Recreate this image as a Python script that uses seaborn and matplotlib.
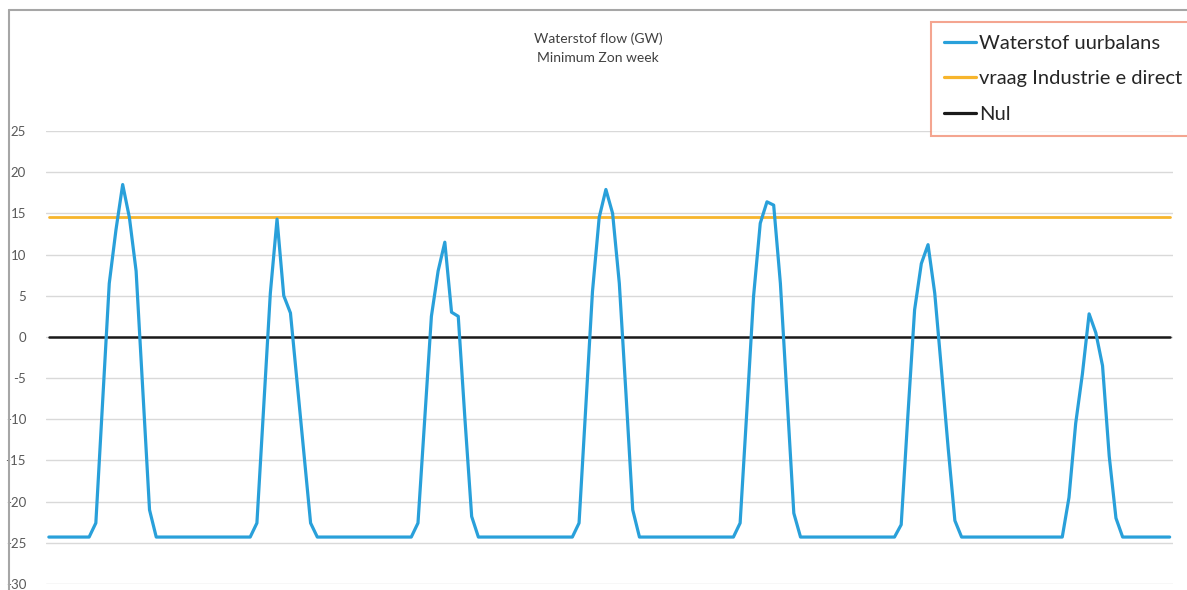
import matplotlib
matplotlib.use("Agg")
import matplotlib.pyplot as plt
import numpy as np
import pandas as pd
import seaborn as sns
from matplotlib.lines import Line2D

# hourly hydrogen balance (GW), one list per day
day1 = [-24.3, -24.3, -24.3, -24.3, -24.3, -24.3, -24.3, -22.6, -8.0, 6.5, 13.0, 18.5,
        14.5, 8.0, -6.5, -21.0, -24.3, -24.3, -24.3, -24.3, -24.3, -24.3, -24.3, -24.3]
day2 = [-24.3, -24.3, -24.3, -24.3, -24.3, -24.3, -24.3, -22.6, -8.6, 5.3, 14.3, 5.0,
        2.9, -5.6, -14.0, -22.6, -24.3, -24.3, -24.3, -24.3, -24.3, -24.3, -24.3, -24.3]
day3 = [-24.3, -24.3, -24.3, -24.3, -24.3, -24.3, -24.3, -22.6, -10.0, 2.5, 8.0, 11.5,
        3.0, 2.5, -10.0, -21.8, -24.3, -24.3, -24.3, -24.3, -24.3, -24.3, -24.3, -24.3]
day4 = [-24.3, -24.3, -24.3, -24.3, -24.3, -24.3, -24.3, -22.6, -8.5, 5.5, 14.5, 17.9,
        15.0, 6.5, -7.0, -21.0, -24.3, -24.3, -24.3, -24.3, -24.3, -24.3, -24.3, -24.3]
day5 = [-24.3, -24.3, -24.3, -24.3, -24.3, -24.3, -24.3, -22.6, -9.0, 4.9, 13.8, 16.4,
        16.0, 6.5, -7.5, -21.4, -24.3, -24.3, -24.3, -24.3, -24.3, -24.3, -24.3, -24.3]
day6 = [-24.3, -24.3, -24.3, -24.3, -24.3, -24.3, -24.3, -22.8, -9.5, 3.3, 8.9, 11.2,
        5.3, -4.0, -13.5, -22.3, -24.3, -24.3, -24.3, -24.3, -24.3, -24.3, -24.3, -24.3]
day7 = [-24.3, -24.3, -24.3, -24.3, -24.3, -24.3, -24.3, -24.3, -19.5, -10.5, -4.5, 2.8,
        0.5, -3.5, -14.5, -22.0, -24.3, -24.3, -24.3, -24.3, -24.3, -24.3, -24.3, -24.3]

demand_industry = 14.6   # vraag Industrie e direct
zero_level = 0.0

labels = ["Waterstof uurbalans", "vraag Industrie e direct", "Nul"]
colors = ["#29a0da", "#f7b52c", "#1a1a1a"]
yticks = [25, 20, 15, 10, 5, 0, -5, -10, -15, -20, -25, -30]

balance = day1 + day2 + day3 + day4 + day5 + day6 + day7
hours = list(range(len(balance)))

df = pd.DataFrame({
    "hour": hours * 3,
    "value": balance + [demand_industry] * len(hours) + [zero_level] * len(hours),
    "series": [labels[0]] * len(hours) + [labels[1]] * len(hours) + [labels[2]] * len(hours),
})

sns.set_theme(style="white")
plt.rcParams["font.family"] = ["Lato", "DejaVu Sans"]

W, H = 1187, 590
fig = plt.figure(figsize=(W / 100, H / 100), dpi=100)
ax = fig.add_axes([45.5 / W, 1 - 584 / H, (1173 - 45.5) / W, (584 - 131) / H])

# draw order: zero line and demand under the balance curve
for lbl, col, lw, z in [(labels[2], colors[2], 1.8, 2), (labels[1], colors[1], 2.0, 3),
                        (labels[0], colors[0], 2.3, 4)]:
    sns.lineplot(data=df[df["series"] == lbl], x="hour", y="value", color=col,
                 linewidth=lw, ax=ax, zorder=z, legend=False)

ax.set_xlim(-0.5, len(hours) - 0.5)
ax.set_ylim(-30, 25)
ax.set_yticks(yticks)
ax.set_yticklabels([str(t) for t in yticks], fontsize=9.5, color="#595959")
ax.set_xticks([])
ax.set_xlabel("")
ax.set_ylabel("")
ax.tick_params(axis="y", length=0, pad=14)
ax.yaxis.grid(True, color="#d9d9d9", linewidth=1.0)
ax.set_axisbelow(True)
for s in ax.spines.values():
    s.set_visible(False)

fig.text(598 / W, 1 - 39 / H, "Waterstof flow (GW)", ha="center", va="center",
         fontsize=10, color="#404040")
fig.text(598 / W, 1 - 58 / H, "Minimum Zon week", ha="center", va="center",
         fontsize=10, color="#404040")

handles = [Line2D([0], [0], color=c, linewidth=2.3) for c in colors]
leg = fig.legend(handles, labels, loc="upper left", bbox_to_anchor=(931 / W, 1 - 22 / H),
                 fontsize=14.5, handlelength=1.6, handletextpad=0.12, labelspacing=0.9,
                 borderpad=0.65, borderaxespad=0, frameon=True, fancybox=False)
leg.get_frame().set_edgecolor("#f28f74")
leg.get_frame().set_linewidth(1.5)
for t in leg.get_texts():
    t.set_color("#262626")

# outer chart frame (top and left edges visible in the crop)
fig.add_artist(Line2D([9 / W, 9 / W], [0, 1 - 10 / H], transform=fig.transFigure,
                      color="#a6a6a6", linewidth=1.5))
fig.add_artist(Line2D([9 / W, 1], [1 - 10 / H, 1 - 10 / H], transform=fig.transFigure,
                      color="#a6a6a6", linewidth=1.5))

fig.savefig("out.png", dpi=100)
